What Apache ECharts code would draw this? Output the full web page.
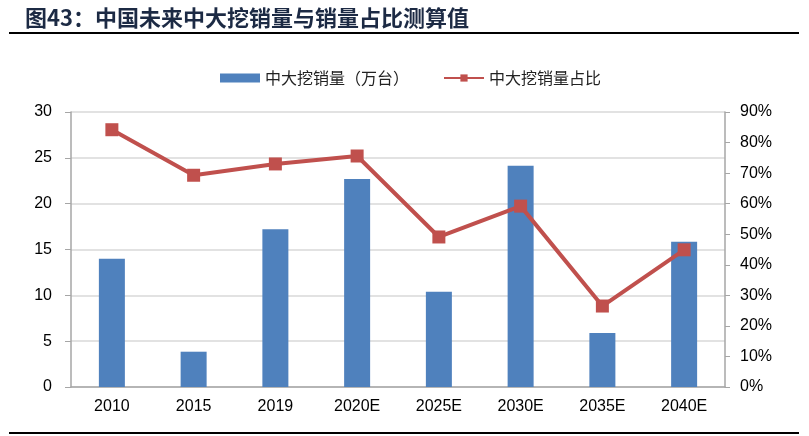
<!DOCTYPE html>
<html><head><meta charset="utf-8">
<script src="https://cdn.jsdelivr.net/npm/echarts@6/dist/echarts.min.js"></script>
<style>html,body{margin:0;padding:0;background:#fff}#c{width:809px;height:436px}</style>
</head><body><div id="c"></div>
<script>
const categories = ['2010','2015','2019','2020E','2025E','2030E','2035E','2040E'];
const salesValues = [14.0, 3.85, 17.2, 22.7, 10.4, 24.15, 5.9, 15.85];
const shareValues = [84.2, 69.3, 73.0, 75.6, 49.1, 59.2, 26.5, 44.9];
const leftTicks = {min: 0, max: 30, interval: 5};
const rightTicks = {min: 0, max: 90, interval: 10};
const seriesNames = ['中大挖销量（万台）', '中大挖销量占比'];

const chart = echarts.init(document.getElementById('c'), null, {renderer: 'canvas'});
const latin = 'Liberation Sans, Arial, sans-serif';
chart.setOption({
  animation: false,
  title: {
    text: '图43：中国未来中大挖销量与销量占比测算值',
    left: 20, top: 2,
    textStyle: {fontSize: 22, fontWeight: 'bold', color: '#1c2a44', fontFamily: 'Noto Sans CJK SC, sans-serif'}
  },
  graphic: [
    {type: 'line', shape: {x1: 9, y1: 33, x2: 799, y2: 33}, style: {stroke: '#000', lineWidth: 2}},
    {type: 'line', shape: {x1: 9, y1: 433, x2: 799, y2: 433}, style: {stroke: '#000', lineWidth: 2}}
  ],
  legend: {
    top: 65, left: 215,
    itemGap: 34, itemWidth: 40, itemHeight: 9,
    textStyle: {fontSize: 16, color: '#222', fontFamily: 'Noto Sans CJK SC, sans-serif'},
    data: [
      {name: seriesNames[0], icon: 'rect'},
      {name: seriesNames[1]}
    ]
  },
  grid: {left: 71, right: 84, top: 112, bottom: 49, containLabel: false},
  xAxis: {
    type: 'category', data: categories,
    axisLine: {lineStyle: {color: '#a6a6a6', width: 1.5}},
    axisTick: {show: false},
    axisLabel: {fontSize: 16, color: '#000', fontFamily: latin, margin: 12}
  },
  yAxis: [
    {
      type: 'value', min: leftTicks.min, max: leftTicks.max, interval: leftTicks.interval,
      axisLine: {show: true, lineStyle: {color: '#a6a6a6', width: 1.5}},
      axisTick: {show: true, length: 6, lineStyle: {color: '#a6a6a6'}},
      splitLine: {lineStyle: {color: '#d9d9d9', width: 1.5}},
      axisLabel: {fontSize: 16, color: '#000', fontFamily: latin, margin: 19}
    },
    {
      type: 'value', min: rightTicks.min, max: rightTicks.max, interval: rightTicks.interval,
      position: 'right',
      axisLine: {show: true, lineStyle: {color: '#a6a6a6', width: 1.5}},
      axisTick: {show: true, length: 5, lineStyle: {color: '#a6a6a6'}},
      splitLine: {show: false},
      axisLabel: {fontSize: 16, color: '#000', fontFamily: latin, margin: 15, formatter: '{value}%'}
    }
  ],
  series: [
    {
      name: seriesNames[0], type: 'bar', data: salesValues, yAxisIndex: 0,
      barWidth: 26, itemStyle: {color: '#4F81BD'}
    },
    {
      name: seriesNames[1], type: 'line', data: shareValues, yAxisIndex: 1,
      symbol: 'rect', symbolSize: 13,
      lineStyle: {color: '#C0504D', width: 4},
      itemStyle: {color: '#C0504D'}
    }
  ]
});
</script></body></html>
